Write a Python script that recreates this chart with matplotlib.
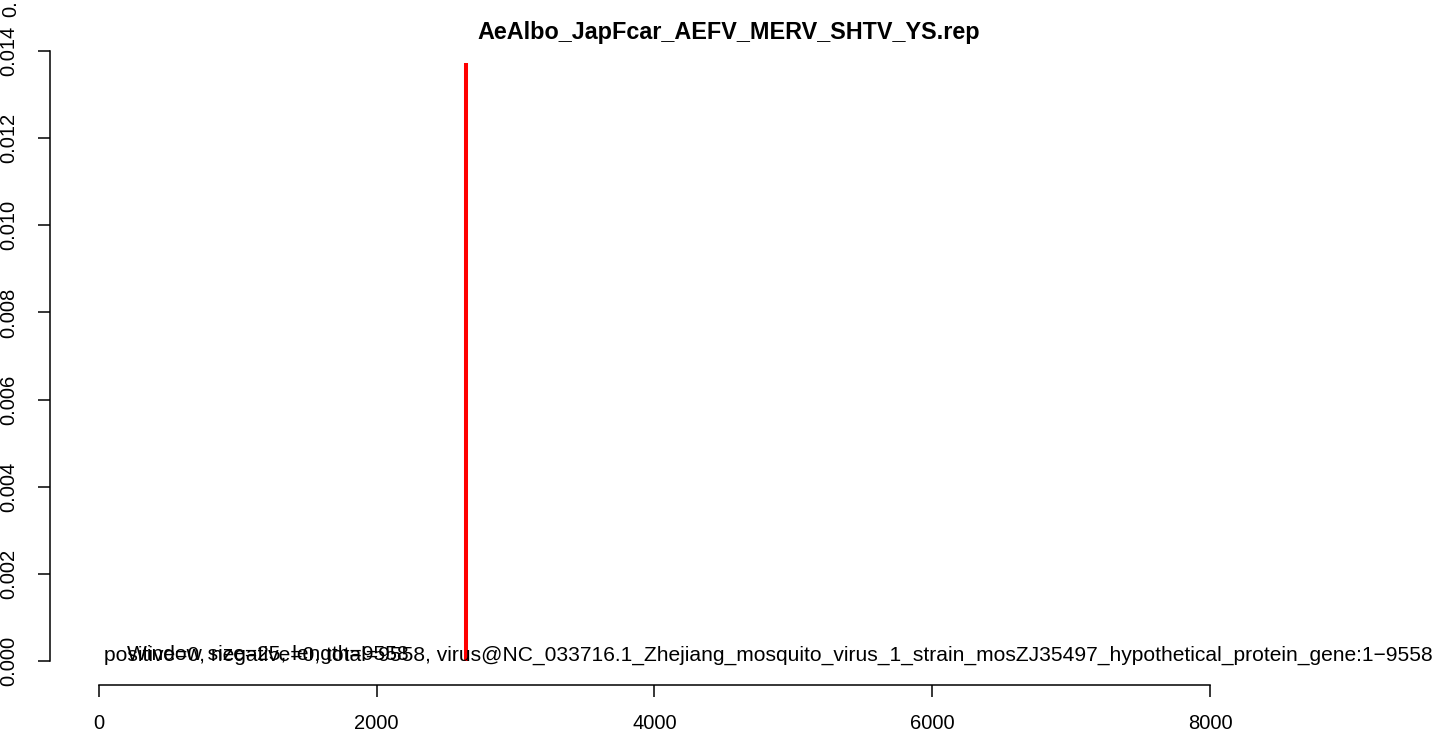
import matplotlib
matplotlib.use("Agg")
import matplotlib.pyplot as plt

plt.rcParams['font.family'] = ['Liberation Sans', 'DejaVu Sans']

# data
titulo = "AeAlbo_JapFcar_AEFV_MERV_SHTV_YS.rep"
virus = "NC_033716.1_Zhejiang_mosquito_virus_1_strain_mosZJ35497_hypothetical_protein_gene:1\u22129558"
comprimento = 9558
janela = 25
posicoes = [2640]
valores = [0.01372]
xticks = [0, 2000, 4000, 6000, 8000]
yticks = [0.000, 0.002, 0.004, 0.006, 0.008, 0.010, 0.012, 0.014]

W, H = 1439, 736
fig = plt.figure(figsize=(W / 100, H / 100), dpi=100)
ax = fig.add_axes([50 / W, (H - 685) / H, (W - 50) / W, (685 - 39) / H])

ax.vlines(posicoes, 0, valores, color='#ff0000', lw=2.9)

ax.set_xlim(-352.8, 9649)
ax.set_ylim(-0.000551, 0.014275)

for s in ['top', 'right']:
    ax.spines[s].set_visible(False)
ax.spines['left'].set_bounds(yticks[0], yticks[-1])
ax.spines['bottom'].set_bounds(xticks[0], xticks[-1])
for s in ['left', 'bottom']:
    ax.spines[s].set_linewidth(1.1)

ax.set_xticks(xticks)
ax.set_xticklabels([str(v) for v in xticks])
ax.set_yticks(yticks)
ax.set_yticklabels([f"{v:.3f}" for v in yticks], rotation=90, va='center')
ax.tick_params(axis='both', length=8.6, width=1.1, labelsize=14.5)
ax.tick_params(axis='x', pad=12)
ax.tick_params(axis='y', pad=14)

# textos sobrepostos na base
txt_a = f"positive=0, negative=0, total={comprimento}, virus@{virus}"
txt_b = f"Window size={janela}, length={comprimento}"
ax.text(36, 0.00014, txt_a, ha='left', va='center', fontsize=15.1, clip_on=False)
ax.text(200, 0.00014, txt_b, ha='left', va='center', fontsize=15.1, clip_on=False)

fig.text(729 / W, 1 - 32 / H, titulo, ha='center', va='center', fontsize=16.8, fontweight='bold')
fig.text(11 / W, 1 - 17 / H, "0.", ha='center', va='bottom', rotation=90, fontsize=14.5)

fig.savefig("out.png", dpi=100)
